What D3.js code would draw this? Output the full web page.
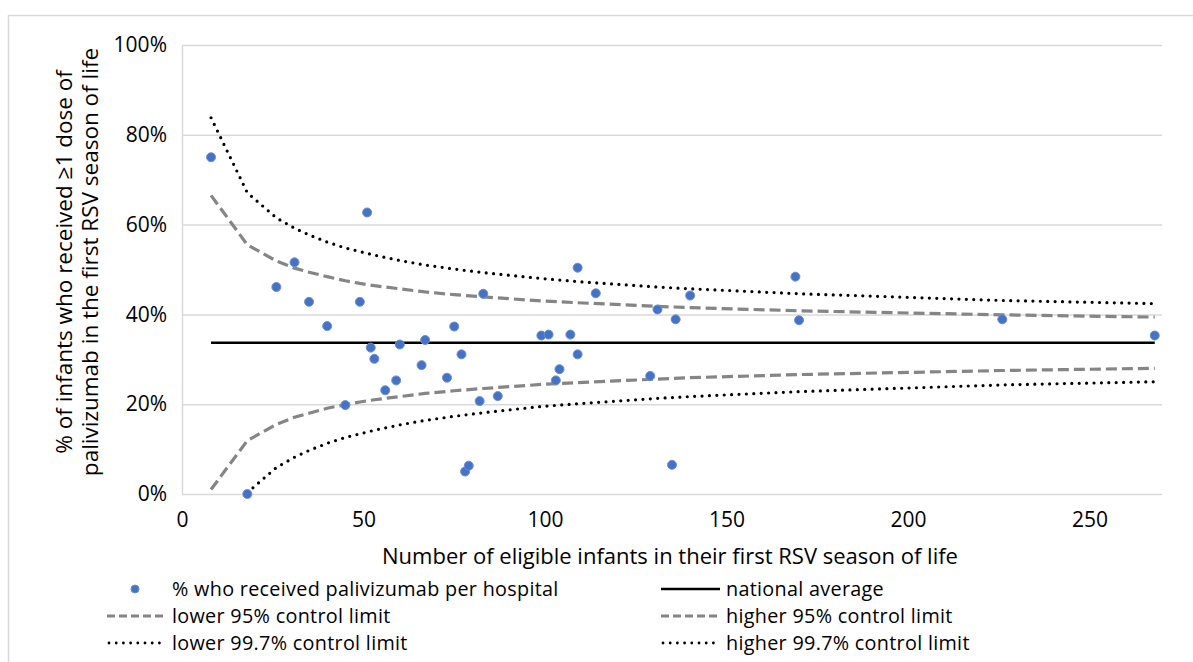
<!DOCTYPE html>
<html>
<head>
<meta charset="utf-8">
<script src="https://cdn.jsdelivr.net/npm/d3@7"></script>
<style>
  body { margin: 0; background: #fff; }
  text { font-family: "Open Sans", Lato, sans-serif; fill: #000; }
</style>
</head>
<body>
<div id="chart"></div>
<script>
// hospitals: eligible infants (n) and % who received palivizumab
const hospitalN = [8, 18, 26, 31, 35, 40, 45, 49, 51, 52, 53, 56, 59, 60, 66, 67, 73, 75, 77, 78, 79,
  82, 83, 87, 99, 101, 103, 104, 107, 109, 109, 114, 129, 131, 135, 136, 140, 169, 170, 226, 268];
const hospitalPct = [75.0, 0.0, 46.1, 51.6, 42.8, 37.4, 19.8, 42.8, 62.7, 32.6, 30.1, 23.1, 25.3, 33.3, 28.7, 34.3, 25.9, 37.3, 31.1, 5.0, 6.3,
  20.7, 44.6, 21.8, 35.3, 35.5, 25.3, 27.8, 35.5, 50.4, 31.1, 44.7, 26.3, 41.1, 6.5, 38.9, 44.2, 48.4, 38.7, 38.9, 35.3];

// national average line
const avgN = [8, 268];
const avgPct = [33.7, 33.7];

// control limits
const limitN = [8, 18, 26, 31, 35, 40, 45, 49, 53, 60, 67, 75, 83, 99, 109, 131, 140, 170, 226, 268];
const lower95 = [1.0, 11.9, 15.5, 17.1, 18.0, 19.1, 19.9, 20.5, 21.0, 21.7, 22.4, 23.0, 23.5, 24.4, 24.8, 25.6, 25.9, 26.6, 27.5, 28.0];
const upper95 = [66.5, 55.5, 51.9, 50.3, 49.4, 48.4, 47.5, 46.9, 46.4, 45.7, 45.0, 44.4, 43.9, 43.0, 42.6, 41.8, 41.5, 40.8, 39.9, 39.4];
const lower997 = [null, 0.3, 5.9, 8.2, 9.7, 11.3, 12.6, 13.4, 14.2, 15.4, 16.4, 17.3, 18.1, 19.5, 20.1, 21.3, 21.7, 22.8, 24.3, 25.0];
const upper997 = [83.8, 67.1, 61.5, 59.2, 57.7, 56.1, 54.8, 54.0, 53.2, 52.0, 51.0, 50.1, 49.3, 48.0, 47.3, 46.1, 45.7, 44.6, 43.1, 42.4];

const xTicks = [0, 50, 100, 150, 200, 250];
const yTicks = [0, 20, 40, 60, 80, 100];

const legendItems = [
  { label: "% who received palivizumab per hospital", kind: "dot" },
  { label: "national average", kind: "solid" },
  { label: "lower 95% control limit", kind: "dash" },
  { label: "higher 95% control limit", kind: "dash" },
  { label: "lower 99.7% control limit", kind: "dot-line" },
  { label: "higher 99.7% control limit", kind: "dot-line" }
];

const W = 1193, H = 662;
const margin = { top: 45, right: 31, bottom: 168, left: 182 };
const innerW = W - margin.left - margin.right;
const innerH = H - margin.top - margin.bottom;

const svg = d3.select("#chart").append("svg")
  .attr("width", W)
  .attr("height", H);

// chart border
svg.append("rect")
  .attr("x", 8.5).attr("y", 15.5)
  .attr("width", W).attr("height", H)
  .attr("fill", "none")
  .attr("stroke", "#d9d9d9")
  .attr("stroke-width", 1.5);

const g = svg.append("g")
  .attr("transform", "translate(" + margin.left + "," + margin.top + ")");

const x = d3.scaleLinear().domain([0, 270]).range([0, innerW]);
const y = d3.scaleLinear().domain([0, 100]).range([innerH, 0]);

// gridlines
g.append("g")
  .selectAll("line")
  .data(yTicks)
  .join("line")
  .attr("x1", 0).attr("x2", innerW)
  .attr("y1", d => y(d) + 0.5).attr("y2", d => y(d) + 0.5)
  .attr("stroke", "#d9d9d9")
  .attr("stroke-width", 1.5);

// left axis line
g.append("line")
  .attr("x1", 0.5).attr("x2", 0.5)
  .attr("y1", 0).attr("y2", innerH)
  .attr("stroke", "#d9d9d9")
  .attr("stroke-width", 1.5);

// axes
const xAxis = g.append("g")
  .attr("transform", "translate(0," + innerH + ")")
  .call(d3.axisBottom(x).tickValues(xTicks).tickSize(0).tickPadding(18));
xAxis.select(".domain").remove();
xAxis.selectAll("text").style("font-size", "21px").style("font-family", "'Open Sans', sans-serif").attr("fill", "#000");

const yAxis = g.append("g")
  .call(d3.axisLeft(y).tickValues(yTicks).tickSize(0).tickPadding(15).tickFormat(d => d + "%"));
yAxis.select(".domain").remove();
yAxis.selectAll("text").style("font-size", "21px").style("font-family", "'Open Sans', sans-serif").attr("fill", "#000");

// lines
const line = d3.line()
  .defined(d => d[1] !== null)
  .x(d => x(d[0]))
  .y(d => y(d[1]));

function drawLine(xs, ys, style) {
  const path = g.append("path")
    .datum(xs.map((v, i) => [v, ys[i]]))
    .attr("fill", "none")
    .attr("d", line);
  if (style === "solid") {
    path.attr("stroke", "#000").attr("stroke-width", 2.5);
  } else if (style === "dash") {
    path.attr("stroke", "#858585").attr("stroke-width", 3.2)
      .attr("stroke-dasharray", "11,5");
  } else {
    path.attr("stroke", "#000").attr("stroke-width", 3.2)
      .attr("stroke-linecap", "round")
      .attr("stroke-dasharray", "0,7.4");
  }
}

drawLine(limitN, upper997, "dot-line");
drawLine(limitN, lower997, "dot-line");
drawLine(limitN, upper95, "dash");
drawLine(limitN, lower95, "dash");
drawLine(avgN, avgPct, "solid");

// hospital points
g.append("g")
  .selectAll("circle")
  .data(hospitalN.map((n, i) => [n, hospitalPct[i]]))
  .join("circle")
  .attr("cx", d => x(d[0]))
  .attr("cy", d => y(d[1]))
  .attr("r", 4.5)
  .attr("fill", "#4472c4")
  .attr("stroke", "#6d90d4")
  .attr("stroke-width", 1);

// axis titles
svg.append("text")
  .attr("x", 670)
  .attr("y", 564)
  .attr("text-anchor", "middle")
  .style("font-size", "22px")
  .text("Number of eligible infants in their first RSV season of life");

const yTitle = svg.append("text")
  .attr("transform", "translate(0,262) rotate(-90)")
  .attr("text-anchor", "middle")
  .style("font-size", "22.5px");
yTitle.append("tspan").attr("x", 0).attr("y", 72).text("% of  infants who received \u22651 dose of");
yTitle.append("tspan").attr("x", 0).attr("y", 98).text("palivizumab in the first RSV season of  life");

// legend
const legend = svg.append("g");
const colX = [105, 659];
const rowY = [589, 616, 643];

legendItems.forEach((item, i) => {
  const lx = colX[i % 2];
  const ly = rowY[Math.floor(i / 2)];
  const it = legend.append("g").attr("transform", "translate(" + lx + "," + ly + ")");
  if (item.kind === "dot") {
    it.append("circle").attr("cx", 30).attr("cy", 0).attr("r", 4)
      .attr("fill", "#4472c4").attr("stroke", "#6d90d4");
  } else {
    drawLegendLine(it, item.kind);
  }
  it.append("text")
    .attr("x", 67)
    .attr("y", 0)
    .attr("dy", "0.35em")
    .style("font-size", "19.8px")
    .style("letter-spacing", "0.3px")
    .text(item.label);
});

function drawLegendLine(sel, kind) {
  const l = sel.append("line")
    .attr("x1", 2).attr("x2", 61)
    .attr("y1", 0).attr("y2", 0);
  if (kind === "solid") {
    l.attr("stroke", "#000").attr("stroke-width", 2.5);
  } else if (kind === "dash") {
    l.attr("stroke", "#858585").attr("stroke-width", 3).attr("stroke-dasharray", "8,4");
  } else {
    l.attr("x1", 4).attr("stroke", "#000").attr("stroke-width", 2.8)
      .attr("stroke-linecap", "round").attr("stroke-dasharray", "0,7.2");
  }
}
</script>
</body>
</html>
